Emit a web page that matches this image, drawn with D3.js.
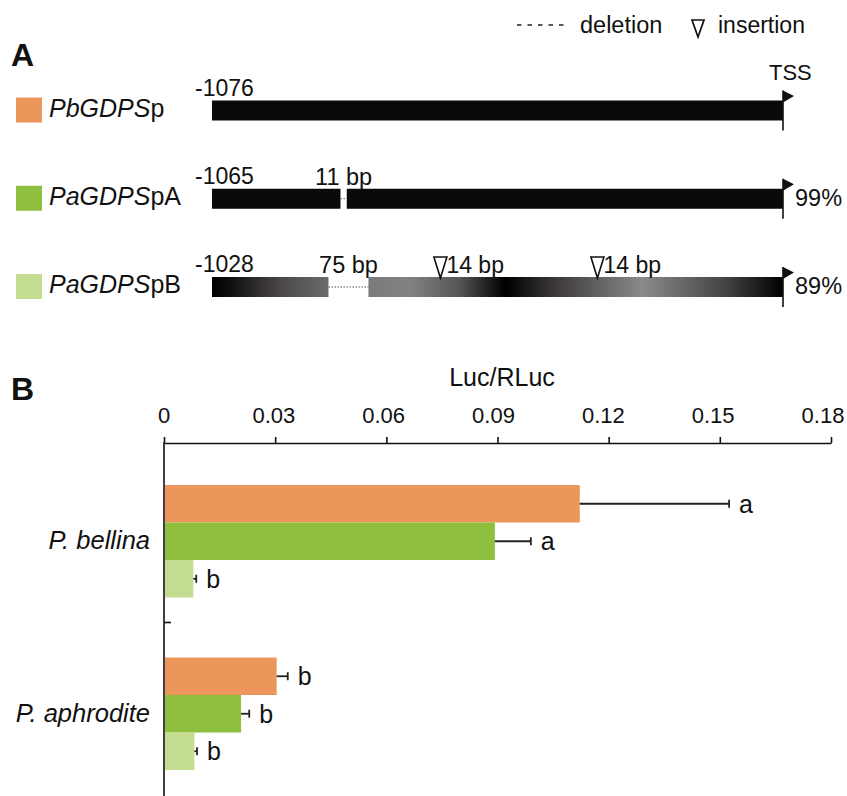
<!DOCTYPE html>
<html>
<head>
<meta charset="utf-8">
<script src="https://cdn.jsdelivr.net/npm/d3@7"></script>
<style>
  body { margin: 0; background: #fff; }
  svg { display: block; font-family: "Liberation Sans", Arial, sans-serif; }
  text { fill: #111; }
</style>
</head>
<body>
<svg id="chart" width="847" height="796"></svg>
<script>
// promoters (panel A) and their colours
const promoters = ['PbGDPSp', 'PaGDPSpA', 'PaGDPSpB'];
const promoterItalic = ['PbGDPS', 'PaGDPS', 'PaGDPS'];
const promoterSuffix = ['p', 'pA', 'pB'];
const promoterColors = ['#ec965b', '#8fbf3f', '#c3dc90'];
const promoterStarts = ['-1076', '-1065', '-1028'];
const identity = ['', '99%', '89%'];
// schematic positions along the promoter, 0..1000
const deletions = [null, [225, 236, '11 bp'], [204, 274, '75 bp']];
const insertions = [[], [], [[400, '14 bp'], [675, '14 bp']]];

// panel B values
const species = ['P. bellina', 'P. aphrodite'];
const luc = [
  [0.1122, 0.0893, 0.0079],
  [0.0304, 0.0208, 0.0082]
];
const lucErr = [
  [0.0403, 0.0097, 0.0008],
  [0.0030, 0.0022, 0.0007]
];
const letters = [
  ['a', 'a', 'b'],
  ['b', 'b', 'b']
];
const xTicks = [0, 0.03, 0.06, 0.09, 0.12, 0.15, 0.18];

const svg = d3.select('#chart');
const defs = svg.append('defs');

function txt(parent, x, y, str, size, anchor) {
  return parent.append('text').attr('x', x).attr('y', y)
    .attr('text-anchor', anchor || 'start')
    .style('font-size', size + 'px').text(str);
}

// ---------- Panel A ----------
txt(svg, 11, 66, 'A', 32).style('font-weight', 'bold');

// legend
svg.append('line').attr('x1', 517).attr('x2', 567).attr('y1', 25).attr('y2', 25)
  .attr('stroke', '#222').attr('stroke-width', 1.3).attr('stroke-dasharray', '4.5,6');
txt(svg, 580, 33, 'deletion', 23.5);
svg.append('path').attr('d', 'M692,20 L704,20 L698,37 Z')
  .attr('fill', 'none').attr('stroke', '#111').attr('stroke-width', 1.7);
txt(svg, 718, 33, 'insertion', 23);

const xs = d3.scaleLinear().domain([0, 1000]).range([212, 783]);
const rowY = d3.scalePoint().domain(promoters).range([110.5, 287]);
const BAR_H = 20;

// gradients for the PaGDPSpB bar
const g1 = defs.append('linearGradient').attr('id', 'gB1')
  .attr('gradientUnits', 'userSpaceOnUse')
  .attr('x1', xs(0)).attr('x2', xs(204)).attr('y1', 0).attr('y2', 0);
[[0, '#000'], [0.2, '#161414'], [0.6, '#4c4848'], [1, '#6c6c6c']].forEach(s =>
  g1.append('stop').attr('offset', s[0]).attr('stop-color', s[1]));
const g2 = defs.append('linearGradient').attr('id', 'gB2')
  .attr('gradientUnits', 'userSpaceOnUse')
  .attr('x1', xs(274)).attr('x2', xs(1000)).attr('y1', 0).attr('y2', 0);
[[0, '#7a7a7a'], [0.1, '#828282'], [0.22, '#555'], [0.33, '#000'], [0.45, '#3c3838'],
 [0.66, '#8a8a8a'], [0.86, '#444'], [1, '#000']].forEach(s =>
  g2.append('stop').attr('offset', s[0]).attr('stop-color', s[1]));

promoters.forEach((p, i) => {
  const cy = rowY(p);
  const g = svg.append('g');

  g.append('rect').attr('x', 16).attr('y', cy - 13).attr('width', 26).attr('height', 25)
    .attr('fill', promoterColors[i]);
  const t = txt(g, 49, cy + 6, '', 25);
  t.append('tspan').style('font-style', 'italic').text(promoterItalic[i]);
  t.append('tspan').text(promoterSuffix[i]);

  txt(g, xs(0) - 17, cy - 15, promoterStarts[i], 23);

  const del = deletions[i];
  const segs = del ? [[0, del[0]], [del[1], 1000]] : [[0, 1000]];
  segs.forEach((s, k) => {
    const fill = i === 2 ? (k === 0 ? 'url(#gB1)' : 'url(#gB2)') : '#0a0a0a';
    g.append('rect').attr('x', xs(s[0])).attr('y', cy - BAR_H / 2)
      .attr('width', xs(s[1]) - xs(s[0])).attr('height', BAR_H).attr('fill', fill);
  });
  if (del) {
    g.append('line').attr('x1', xs(del[0])).attr('x2', xs(del[1]))
      .attr('y1', cy).attr('y2', cy)
      .attr('stroke', '#555').attr('stroke-width', 1.2).attr('stroke-dasharray', '1.5,1.5');
    // deletion size is centred over the gap
    txt(g, (xs(del[0]) + xs(del[1])) / 2, cy - 14, del[2], 23.5, 'middle');
  }
  insertions[i].forEach(ins => {
    const x = xs(ins[0]);
    g.append('path').attr('d', `M${x - 6.5},${cy - 30} L${x + 6.5},${cy - 30} L${x},${cy - 9} Z`)
      .attr('fill', 'none').attr('stroke', '#111').attr('stroke-width', 1.6);
    txt(g, x + 6, cy - 14, ins[1], 23);
  });

  // TSS flag
  const xe = xs(1000);
  g.append('line').attr('x1', xe).attr('x2', xe).attr('y1', cy - 20).attr('y2', cy + 20)
    .attr('stroke', '#111').attr('stroke-width', 1.6);
  g.append('path').attr('d', `M${xe},${cy - 20} L${xe + 11},${cy - 14.5} L${xe},${cy - 8} Z`).attr('fill', '#111');
  if (identity[i]) txt(g, xe + 12, cy + 7, identity[i], 23.5);
});
txt(svg, 769, 80, 'TSS', 22);

// ---------- Panel B ----------
txt(svg, 11, 400, 'B', 32).style('font-weight', 'bold');

const AXIS_Y = 443;
const x = d3.scaleLinear().domain([0, 0.18]).range([164, 831]);
// tick labels sit a touch left of their ticks in the original
const xLab = d3.scaleLinear().domain([0, 0.18]).range([164, 823]);
const y0 = d3.scaleBand().domain(species).range([455, 800]);
const y1 = d3.scaleBand().domain(promoters).range([0, y0.bandwidth()])
  .paddingInner(0).paddingOuter(0.8);

const xAxis = svg.append('g').attr('transform', `translate(0,${AXIS_Y})`)
  .call(d3.axisTop(x).tickValues(xTicks).tickFormat('').tickSize(6).tickSizeOuter(0));
xAxis.select('.domain').attr('stroke', '#111').attr('stroke-width', 1.6);
xAxis.selectAll('.tick line').attr('stroke', '#111').attr('stroke-width', 1.6);

svg.append('g').selectAll('text').data(xTicks).join('text')
  .attr('x', d => xLab(d)).attr('y', 423).attr('text-anchor', 'middle')
  .style('font-size', '22px')
  .text(d => d === 0 ? '0' : d3.format('.2f')(d));
txt(svg, 502, 386, 'Luc/RLuc', 25, 'middle');

// vertical axis
svg.append('line').attr('x1', x(0)).attr('x2', x(0)).attr('y1', AXIS_Y - 0.8).attr('y2', 796)
  .attr('stroke', '#111').attr('stroke-width', 1.6);
species.slice(1).forEach(s => {
  svg.append('line').attr('x1', x(0)).attr('x2', x(0) + 7).attr('y1', y0(s) - 5).attr('y2', y0(s) - 5)
    .attr('stroke', '#111').attr('stroke-width', 1.6);
});

species.forEach((s, gi) => {
  const g = svg.append('g').attr('transform', `translate(0,${y0(s)})`);
  txt(svg, 150, y0(s) + y0.bandwidth() / 2 + 8, s, 25.5, 'end').style('font-style', 'italic');

  const rows = promoters.map((p, k) => ({ p, k, v: luc[gi][k], e: lucErr[gi][k], l: letters[gi][k] }));

  g.selectAll('rect').data(rows).join('rect')
    .attr('x', x(0) + 1).attr('y', d => y1(d.p))
    .attr('width', d => x(d.v) - x(0) - 1).attr('height', y1.bandwidth())
    .attr('fill', d => promoterColors[d.k]);

  rows.forEach(d => {
    const cy = y1(d.p) + y1.bandwidth() / 2;
    const xe = x(d.v + d.e);
    g.append('line').attr('x1', x(d.v)).attr('x2', xe).attr('y1', cy).attr('y2', cy)
      .attr('stroke', '#222').attr('stroke-width', 1.8);
    g.append('line').attr('x1', xe).attr('x2', xe).attr('y1', cy - 4).attr('y2', cy + 4)
      .attr('stroke', '#222').attr('stroke-width', 1.8);
    txt(g, xe + 10, cy + 9, d.l, 25);
  });
});
</script>
</body>
</html>
